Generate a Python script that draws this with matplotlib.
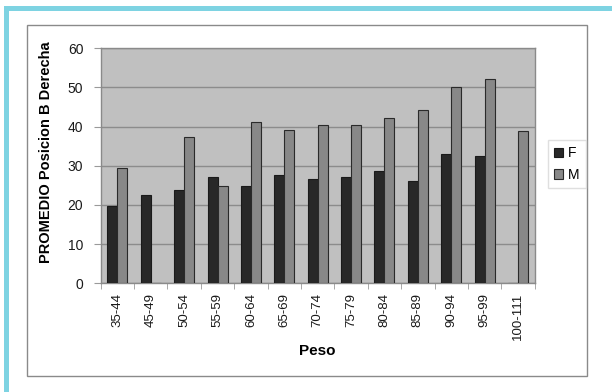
import matplotlib
matplotlib.use("Agg")
import matplotlib.pyplot as plt
import numpy as np
from matplotlib.patches import Rectangle

plt.rcParams['font.family'] = ['Liberation Sans', 'DejaVu Sans']
plt.rcParams['font.size'] = 9

# data
categories = ['35-44', '45-49', '50-54', '55-59', '60-64', '65-69', '70-74',
              '75-79', '80-84', '85-89', '90-94', '95-99', '100-111']
f_values = [19.8, 22.6, 23.7, 27.2, 24.9, 27.7, 26.6,
            27.2, 28.6, 26.0, 32.9, 32.6, 0]
m_values = [29.4, 0, 37.4, 24.9, 41.1, 39.1, 40.3,
            40.3, 42.2, 44.3, 50.0, 52.2, 38.8]
y_ticks = [0, 10, 20, 30, 40, 50, 60]

W, H = 612, 392
fig = plt.figure(figsize=(W / 100, H / 100), dpi=100)

# cyan frame (top and left) and the grey chart box, behind everything
cyan = '#7ed3e2'
fig.patches.append(Rectangle((4 / W, 1 - 11 / H), 1 - 4 / W, 5 / H,
                             transform=fig.transFigure, facecolor=cyan,
                             edgecolor='none', zorder=-10))
fig.patches.append(Rectangle((4 / W, 0), 5 / W, 1 - 6 / H,
                             transform=fig.transFigure, facecolor=cyan,
                             edgecolor='none', zorder=-10))
fig.patches.append(Rectangle((27 / W, 1 - 376 / H), 560 / W, 351 / H,
                             transform=fig.transFigure, facecolor='white',
                             edgecolor='#8a8a8a', linewidth=1.0, zorder=-10))

ax = fig.add_axes([100.7 / W, 1 - 283.3 / H, 434 / W, 235 / H])
ax.set_facecolor('#c0c0c0')

x = np.arange(len(categories))
w = 0.3
ax.bar(x - w / 2, f_values, w, color='#282828', edgecolor='#1a1a1a',
       linewidth=0.8, label='F', zorder=3)
ax.bar(x + w / 2, m_values, w, color='#888888', edgecolor='#2a2a2a',
       linewidth=0.8, label='M', zorder=3)

ax.set_xlim(-0.5, len(categories) - 0.5)
ax.set_ylim(0, 60)
ax.set_yticks(y_ticks)
ax.yaxis.grid(True, color='#8c8c8c', linewidth=1.0, zorder=1)
ax.set_axisbelow(True)

ax.set_xticks(x)
ax.set_xticklabels(categories, rotation=90)
ax.set_xticks(np.arange(len(categories) + 1) - 0.5, minor=True)
ax.tick_params(axis='x', which='major', length=0, pad=7, labelsize=9.5,
               colors='#1a1a1a')
ax.tick_params(axis='x', which='minor', length=4, color='#9a9a9a')
ax.tick_params(axis='y', length=5, pad=7.5, labelsize=10, color='#9a9a9a',
               labelcolor='#1a1a1a')

for s in ax.spines.values():
    s.set_color('#8a8a8a')
    s.set_linewidth(1.0)

ax.set_xlabel('Peso', fontweight='bold', fontsize=11)
ax.set_ylabel('PROMEDIO Posicion B Derecha', fontweight='bold', fontsize=10.5)
ax.yaxis.set_label_coords(-48 / 434, (283.3 - 151.7) / 235)
ax.xaxis.set_label_coords(0.5, -(344 - 283.3) / 235)

leg = ax.legend(loc='upper left', bbox_to_anchor=(547.7 / W, 1 - 140 / H),
                bbox_transform=fig.transFigure, fontsize=10, frameon=True,
                fancybox=False, handlelength=0.67, handleheight=0.67,
                handletextpad=0.35, borderpad=0.45, labelspacing=0.55,
                borderaxespad=0)
leg.get_frame().set_edgecolor('#d8d8d8')
leg.get_frame().set_linewidth(1.0)

fig.savefig('out.png', dpi=100)
